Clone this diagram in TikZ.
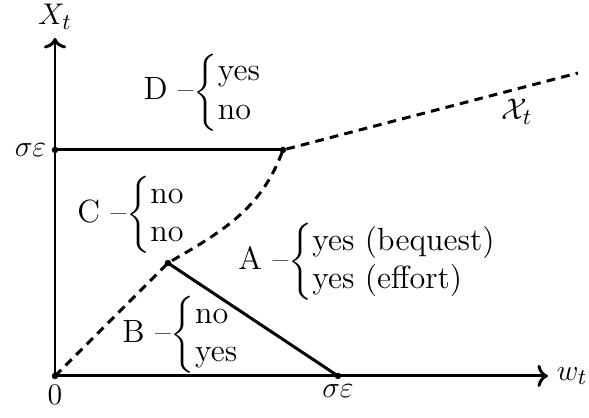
\documentclass[tikz,border=0pt]{standalone}
\usepackage{amsmath}
\usepackage{amssymb}
\usetikzlibrary{arrows.meta}
\newcommand{\sigeps}{\sigma\varepsilon}
\newcommand{\regime}[3]{#1 --$\left\{\begin{array}{@{}l@{}}\text{#2}\\ \text{#3}\end{array}\right.$}

\begin{document}
\begin{tikzpicture}[font=\fontsize{12.9}{15.5}\selectfont]
  \useasboundingbox (-0.776,-0.593) rectangle (7.535,5.305);
  \coordinate (orig) at (0,0);
  \coordinate (ytop) at (0,4.77);
  \coordinate (xtop) at (6.957,0);
  \coordinate (ysig) at (0,3.189);
  \coordinate (xsig) at (3.993,0);
  \coordinate (kink) at (3.217,3.189);
  \coordinate (bend) at (1.594,1.594);
  \coordinate (xend) at (7.38,4.275);

  \draw [->][black,very thick] (orig) -- (ytop);
  \draw [->][black,very thick] (orig) -- (xtop);
  \node (ylab) [above] at (ytop) {$X_t$};
  \node (xlab) [right] at (xtop) {$w_t$};
  \node (zero) [below] at (orig) {$0$};
  \node (ysiglab) [left] at (ysig) {$\sigeps$};
  \node (xsiglab) [below] at (xsig) {$\sigeps$};

  \draw [black,very thick] (ysig) -- (kink);
  \draw [black,very thick] (bend) -- (xsig);
  \draw [black,very thick,dash pattern=on 3.5pt off 2.5pt] (orig) -- (bend) to[out=30, in=250] (kink) -- (xend);
  \node (curve) at (6.519,3.725) {$\mathcal{X}_t$};

  \foreach \p in {orig,ysig,xsig,kink,bend}
    \fill (\p) circle (1.3pt);

  \node (regD) [anchor=west,inner sep=0pt] at (1.242,4.0) {\regime{D}{yes}{no}};
  \node (regC) [anchor=west,inner sep=0pt] at (0.310,2.272) {\regime{C}{no}{no}};
  \node (regA) [anchor=west,inner sep=0pt] at (2.582,1.609) {\regime{A}{yes (bequest)}{yes (effort)}};
  \node (regB) [anchor=west,inner sep=0pt] at (0.945,0.579) {\regime{B}{no}{yes}};
\end{tikzpicture}
\end{document}
